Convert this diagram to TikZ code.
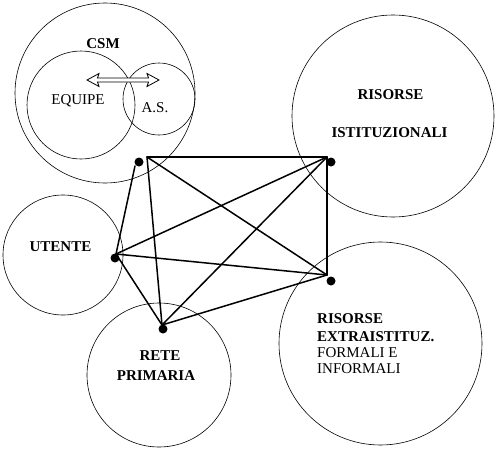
\documentclass[tikz,border=0pt]{standalone}
\usepackage{fontspec}
\setmainfont{Liberation Serif}
\begin{document}
\begin{tikzpicture}[x=1pt,y=-1pt,
  ring/.style={circle,draw,line width=0.6pt,inner sep=0pt},
  dot/.style={circle,fill,inner sep=0pt,minimum size=9pt},
  link/.style={line width=1.5pt,line cap=round},
  lab/.style={font=\fontsize{15}{17}\selectfont\bfseries,inner sep=0pt,anchor=base},
  labn/.style={font=\fontsize{15}{17}\selectfont,inner sep=0pt,anchor=base}]
\useasboundingbox (0,0) rectangle (498,450);
% circles
\node[ring,minimum size=180pt] (csm) at (105,93) {};
\node[ring,minimum size=108pt] (equipe) at (81,105) {};
\node[ring,minimum size=72pt] (as) at (159,99) {};
\node[ring,minimum size=202pt] (ist) at (393,116) {};
\node[ring,minimum size=203pt] (extra) at (380.5,343.5) {};
\node[ring,minimum size=120pt] (utente) at (63,255) {};
\node[ring,minimum size=144pt] (rete) at (159,375) {};
% double arrow
\draw[line width=0.8pt,fill=white] (87,80) -- (99,73.5) -- (97.5,78) -- (148.5,78) -- (147,73.5) -- (159,80) -- (147,86.5) -- (148.5,82) -- (97.5,82) -- (99,86.5) -- cycle;
% labels
\node[lab] (tcsm) at (103,48) {CSM};
\node[labn] (tequipe) at (78,104) {EQUIPE};
\node[labn] (tas) at (155,112) {A.S.};
\node[lab] (tutente) at (60.5,251) {UTENTE};
\node[lab] (trete) at (160,360) {RETE};
\node[lab] (tprim) at (156,380) {PRIMARIA};
\node[lab] (tris) at (390.5,99) {RISORSE};
\node[lab] (tist) at (389.5,137) {ISTITUZIONALI};
\node[lab,anchor=base west] (tr2) at (317,323) {RISORSE};
\node[lab,anchor=base west] (tex) at (317,341) {EXTRAISTITUZ.};
\node[labn,anchor=base west] (tfor) at (317,357) {FORMALI E};
\node[labn,anchor=base west] (tinf) at (317,373) {INFORMALI};
% junctions
\coordinate (A) at (147,157);
\coordinate (A2) at (135,166);
\coordinate (B) at (327,157);
\coordinate (C) at (327,275);
\coordinate (U) at (116,254);
\coordinate (R) at (162,325);
% links
\draw[link] (A) -- (B);
\draw[link] (A) -- (C);
\draw[link] (A) -- (R);
\draw[link] (A2) -- (U);
\draw[link] (B) -- (C);
\draw[link] (U) -- (B);
\draw[link] (U) -- (C);
\draw[link] (U) -- (R);
\draw[link] (R) -- (B);
\draw[link] (R) -- (C);
% dots
\node[dot] (dA) at (139,162) {};
\node[dot] (dB) at (331,162) {};
\node[dot] (dC) at (331,281) {};
\node[dot] (dU) at (115,258) {};
\node[dot] (dR) at (163,329) {};
\end{tikzpicture}
\end{document}
